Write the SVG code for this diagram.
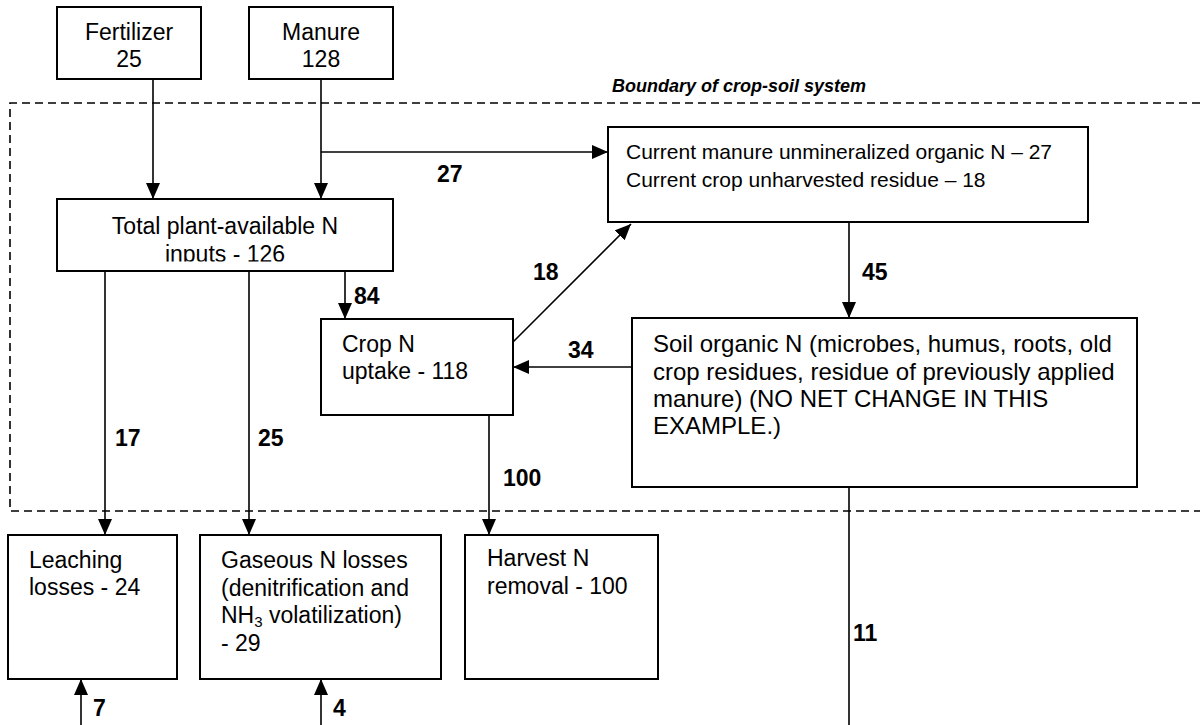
<svg xmlns="http://www.w3.org/2000/svg" width="1200" height="725" viewBox="0 0 1200 725">
  <style>
    .box { fill: #fff; stroke: #000; stroke-width: 2; }
    .t { font-family: "Liberation Sans", Arial, sans-serif; font-size: 23px; fill: #000; }
    .ts { font-family: "Liberation Sans", Arial, sans-serif; font-size: 21px; fill: #000; }
    .tl { font-family: "Liberation Sans", Arial, sans-serif; font-size: 24px; fill: #000; }
    .lbl { font-family: "Liberation Sans", Arial, sans-serif; font-size: 23px; font-weight: bold; fill: #000; }
    .c { stroke: #000; stroke-width: 1.6; fill: none; }
    .ca { stroke: #000; stroke-width: 1.6; fill: none; marker-end: url(#ah); }
    .bnd { stroke: #000; stroke-width: 1.6; fill: none; stroke-dasharray: 8 5; }
  </style>
  <defs>
    <marker id="ah" viewBox="0 0 16 14" refX="16" refY="7" markerWidth="16" markerHeight="14" markerUnits="userSpaceOnUse" orient="auto">
      <path d="M0,0 L16,7 L0,14 z" fill="#000"/>
    </marker>
    <clipPath id="clipTotal">
      <rect x="57" y="199" width="336" height="62.5"/>
    </clipPath>
  </defs>
  <rect width="1200" height="725" fill="#fff"/>

  <g id="boundary">
    <path class="bnd" d="M1200,103 H10 V511 H1200"/>
    <text x="612" y="92" font-family="Liberation Sans, Arial, sans-serif" font-size="18" font-weight="bold" font-style="italic">Boundary of crop-soil system</text>
  </g>

  <g id="connectors">
    <line class="ca" x1="153" y1="79" x2="153" y2="199"/>
    <line class="ca" x1="321" y1="79" x2="321" y2="199"/>
    <polyline class="ca" points="321,152 608,152"/>
    <line class="ca" x1="105" y1="271" x2="105" y2="535"/>
    <line class="ca" x1="249" y1="271" x2="249" y2="535"/>
    <line class="ca" x1="345" y1="271" x2="345" y2="319"/>
    <line class="ca" x1="513" y1="342" x2="631" y2="224"/>
    <line class="ca" x1="632" y1="367" x2="513" y2="367"/>
    <line class="ca" x1="849" y1="222" x2="849" y2="318"/>
    <line class="ca" x1="489" y1="415" x2="489" y2="535"/>
    <line class="c" x1="849" y1="487" x2="849" y2="725"/>
    <line class="ca" x1="81" y1="725" x2="81" y2="679"/>
    <line class="ca" x1="321" y1="725" x2="321" y2="679"/>
    <text class="lbl" x="437" y="182">27</text>
    <text class="lbl" x="862" y="280">45</text>
    <text class="lbl" x="533" y="280">18</text>
    <text class="lbl" x="568" y="358">34</text>
    <text class="lbl" x="354" y="304">84</text>
    <text class="lbl" x="115" y="446">17</text>
    <text class="lbl" x="258" y="446">25</text>
    <text class="lbl" x="503" y="486">100</text>
    <text class="lbl" x="853" y="641">11</text>
    <text class="lbl" x="93" y="716">7</text>
    <text class="lbl" x="333" y="716">4</text>
  </g>

  <g id="fertilizer">
    <rect class="box" x="57" y="7" width="144" height="72"/>
    <text class="t" x="129" y="40" text-anchor="middle">Fertilizer</text>
    <text class="t" x="129" y="67" text-anchor="middle">25</text>
  </g>

  <g id="manure">
    <rect class="box" x="249" y="7" width="144" height="72"/>
    <text class="t" x="321" y="40" text-anchor="middle">Manure</text>
    <text class="t" x="321" y="67" text-anchor="middle">128</text>
  </g>

  <g id="total">
    <rect class="box" x="57" y="199" width="336" height="72"/>
    <g clip-path="url(#clipTotal)">
      <text class="t" x="225" y="234" text-anchor="middle">Total plant-available N</text>
      <text class="t" x="225" y="262" text-anchor="middle">inputs - 126</text>
    </g>
  </g>

  <g id="current">
    <rect class="box" x="608" y="127" width="480" height="95"/>
    <text class="ts" x="626" y="159">Current manure unmineralized organic N – 27</text>
    <text class="ts" x="626" y="187">Current crop unharvested residue – 18</text>
  </g>

  <g id="crop">
    <rect class="box" x="321" y="319" width="192" height="96"/>
    <text class="t" x="342" y="352">Crop N</text>
    <text class="t" x="342" y="379">uptake - 118</text>
  </g>

  <g id="soil">
    <rect class="box" x="632" y="318" width="505" height="169"/>
    <text class="tl" x="653" y="352">Soil organic N (microbes, humus, roots, old</text>
    <text class="tl" x="653" y="380">crop residues, residue of previously applied</text>
    <text class="tl" x="653" y="407">manure) (NO NET CHANGE IN THIS</text>
    <text class="tl" x="653" y="434">EXAMPLE.)</text>
  </g>

  <g id="leaching">
    <rect class="box" x="8" y="535" width="169" height="144"/>
    <text class="t" x="29" y="568">Leaching</text>
    <text class="t" x="29" y="595">losses - 24</text>
  </g>

  <g id="gaseous">
    <rect class="box" x="200" y="535" width="241" height="144"/>
    <text class="t" x="221" y="568">Gaseous N losses</text>
    <text class="t" x="221" y="596">(denitrification and</text>
    <text class="t" x="221" y="623">NH<tspan font-size="15" dy="4">3</tspan><tspan dy="-4"> volatilization)</tspan></text>
    <text class="t" x="221" y="651">- 29</text>
  </g>

  <g id="harvest">
    <rect class="box" x="465" y="535" width="193" height="144"/>
    <text class="t" x="487" y="566">Harvest N</text>
    <text class="t" x="487" y="594">removal - 100</text>
  </g>
</svg>
